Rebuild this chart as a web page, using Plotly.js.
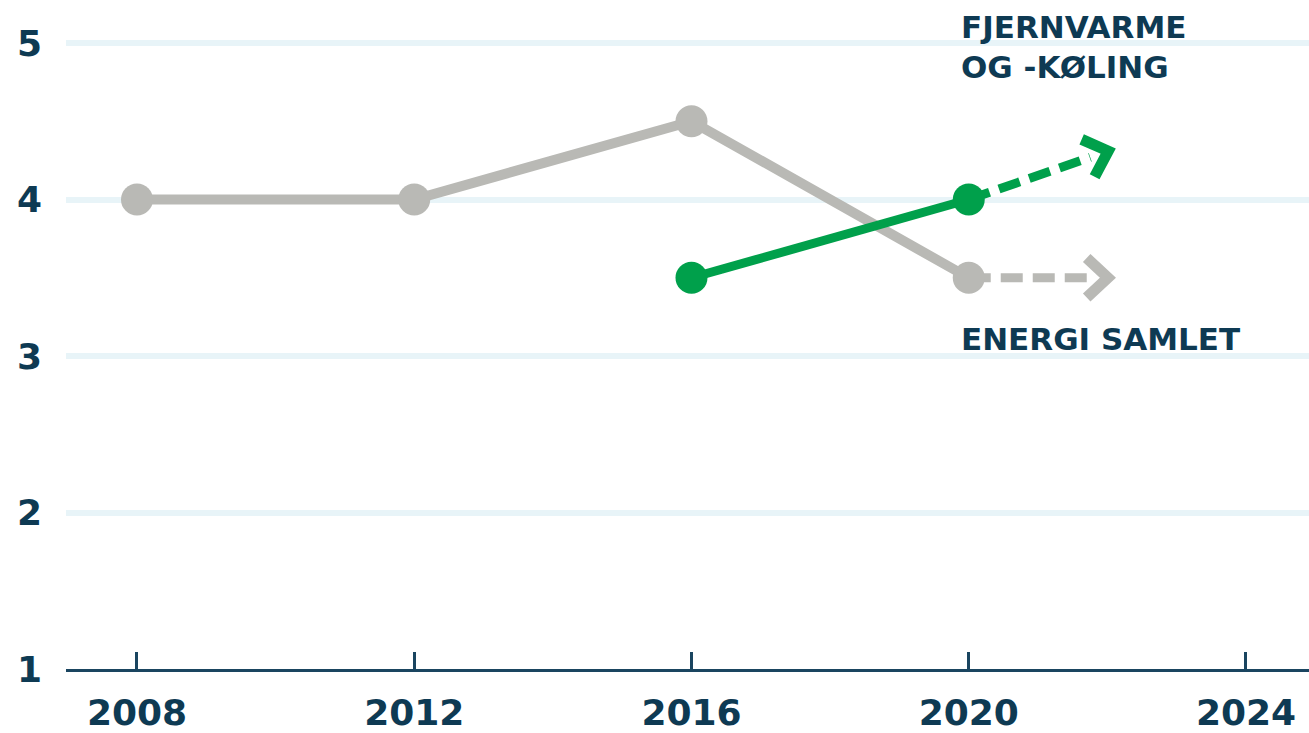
<!DOCTYPE html>
<html><head><meta charset="utf-8">
<script src="https://cdn.plot.ly/plotly-3.0.1.min.js"></script>
<style>html,body{margin:0;padding:0;background:#fff}#chart{width:1309px;height:733px}</style>
</head><body><div id="chart"></div>
<script>
// ---- data ----
const years = [2008, 2012, 2016, 2020];
const energiSamlet = [4, 4, 4.5, 3.5];
const fjernYears = [2016, 2020];
const fjernvarme = [3.5, 4];
const projYears = [2020, 2022.08];
const energiProj = [3.5, 3.5];
const fjernProj = [4, 4.32];
const xTicks = [2008, 2012, 2016, 2020, 2024];
const yTicks = [1, 2, 3, 4, 5];
const labelFjern = 'FJERNVARME<br>OG -KØLING';
const labelEnergi = 'ENERGI SAMLET';

// ---- layout geometry ----
const W = 1309, H = 733;
const M = {l: 66, r: 0, t: 0, b: 64};
const xRange = [2006.976, 2024.909];
const yRange = [1, 5.275];
const pxX = (W - M.l - M.r) / (xRange[1] - xRange[0]);
const pxY = (H - M.t - M.b) / (yRange[1] - yRange[0]);

const GRAY = '#b9b9b5', GREEN = '#00a04b', NAVY = '#0e3a53';
const FONT = 'DejaVu Sans, sans-serif';

// dashed projection (shortened so that the chevron sits at its end) + chevron
function projection(xs, ys, color) {
  const dxp = (xs[1] - xs[0]) * pxX, dyp = (ys[1] - ys[0]) * pxY;
  const L = Math.hypot(dxp, dyp);
  const ux = dxp / L, uy = dyp / L;           // unit direction in px (y up)
  const back = 24;
  const dash = {
    x: [xs[0], xs[1] - ux * back / pxX],
    y: [ys[0], ys[1] - uy * back / pxY],
    mode: 'lines', line: {color: color, width: 9, dash: '22px,10px'},
    hoverinfo: 'skip', showlegend: false
  };
  const tipX = xs[1] - ux * 5 / pxX, tipY = ys[1] - uy * 5 / pxY;
  const arm = 29, ang = 43 * Math.PI / 180;
  const pts = [ang, -ang].map(a => {
    const bx = -ux, by = -uy;
    const rx = bx * Math.cos(a) - by * Math.sin(a);
    const ry = bx * Math.sin(a) + by * Math.cos(a);
    return [tipX + rx * arm / pxX, tipY + ry * arm / pxY];
  });
  const chevron = {
    x: [pts[0][0], tipX, pts[1][0]],
    y: [pts[0][1], tipY, pts[1][1]],
    mode: 'lines', line: {color: color, width: 11},
    hoverinfo: 'skip', showlegend: false
  };
  return [dash, chevron];
}

const traces = [
  ...projection(projYears, energiProj, GRAY),
  ...projection(projYears, fjernProj, GREEN),
  {x: years, y: energiSamlet, mode: 'lines+markers', name: 'Energi samlet',
   line: {color: GRAY, width: 10}, marker: {color: GRAY, size: 32}, showlegend: false},
  {x: fjernYears, y: fjernvarme, mode: 'lines+markers', name: 'Fjernvarme og -køling',
   line: {color: GREEN, width: 9}, marker: {color: GREEN, size: 32}, showlegend: false}
];

const layout = {
  width: W, height: H,
  margin: M,
  paper_bgcolor: '#ffffff', plot_bgcolor: '#ffffff',
  showlegend: false,
  font: {family: FONT, color: NAVY},
  xaxis: {
    range: xRange, tickvals: xTicks, ticktext: xTicks.map(String),
    showgrid: false, zeroline: false,
    showline: true, linecolor: '#1a4560', linewidth: 3,
    ticks: 'inside', ticklen: 17, tickwidth: 3, tickcolor: '#1a4560',
    tickfont: {family: FONT, size: 36, weight: 'bold', color: NAVY},
    ticklabelstandoff: 10, fixedrange: true
  },
  yaxis: {
    range: yRange, tickvals: yTicks, ticktext: yTicks.map(String),
    showgrid: true, gridcolor: '#e8f4f8', gridwidth: 6,
    zeroline: false, showline: false, ticks: '',
    tickfont: {family: FONT, size: 36, weight: 'bold', color: NAVY},
    ticklabelstandoff: 23, fixedrange: true
  },
  annotations: [
    {xref: 'x', yref: 'y', x: 2019.86, y: 4.975, xanchor: 'left', yanchor: 'middle',
     align: 'left', showarrow: false, text: labelFjern,
     font: {family: FONT, size: 31, weight: 'bold', color: NAVY}},
    {xref: 'x', yref: 'y', x: 2019.86, y: 3.11, xanchor: 'left', yanchor: 'middle',
     align: 'left', showarrow: false, text: labelEnergi,
     font: {family: FONT, size: 31, weight: 'bold', color: NAVY}}
  ]
};

Plotly.newPlot('chart', traces, layout, {staticPlot: true, displayModeBar: false});
</script>
</body></html>
